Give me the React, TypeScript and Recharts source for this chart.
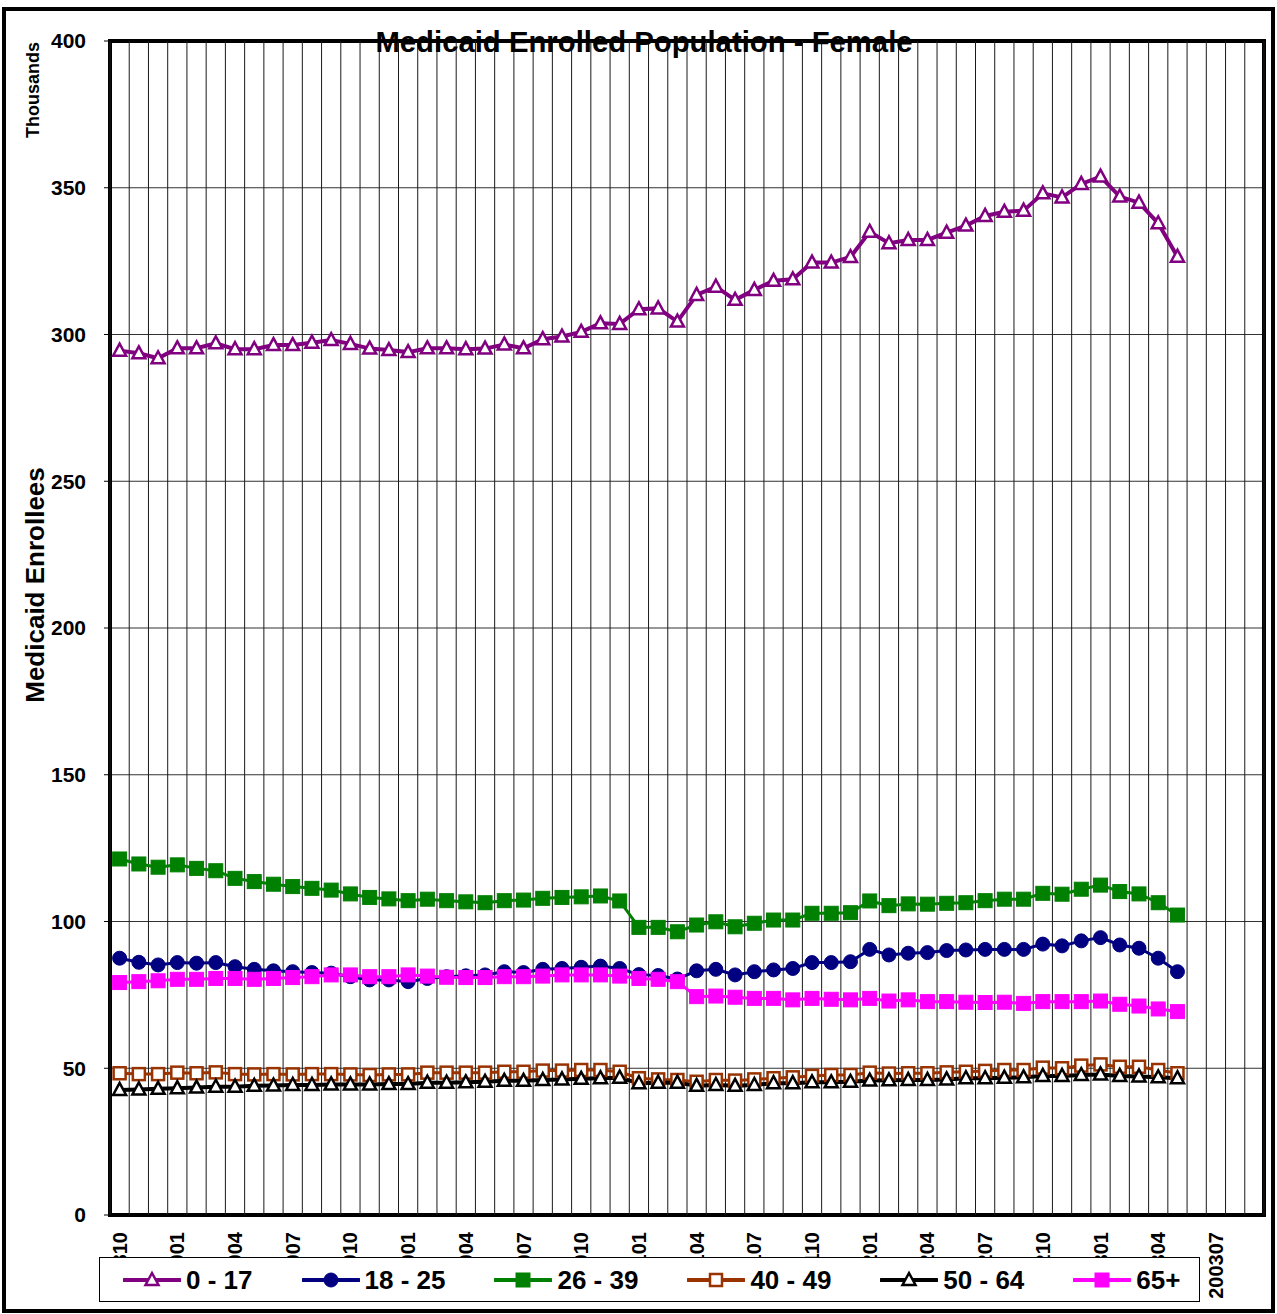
import { LineChart, Line, XAxis, YAxis, CartesianGrid, ReferenceArea, ReferenceLine, Legend } from 'recharts';

const months = [
  '199810', '199811', '199812', '199901', '199902', '199903', '199904', '199905', '199906', '199907',
  '199908', '199909', '199910', '199911', '199912', '200001', '200002', '200003', '200004', '200005',
  '200006', '200007', '200008', '200009', '200010', '200011', '200012', '200101', '200102', '200103',
  '200104', '200105', '200106', '200107', '200108', '200109', '200110', '200111', '200112', '200201',
  '200202', '200203', '200204', '200205', '200206', '200207', '200208', '200209', '200210', '200211',
  '200212', '200301', '200302', '200303', '200304', '200305', '200306', '200307', '200308', '200309',
];

const age0to17 = [
  294.5, 293.6, 291.9, 295.3, 295.3, 297.0, 295.0, 295.0, 296.4, 296.4,
  297.2, 298.1, 296.8, 295.2, 294.7, 294.0, 295.3, 295.3, 295.0, 295.2,
  296.6, 295.3, 298.4, 299.3, 300.9, 303.8, 303.6, 308.6, 308.9, 304.4,
  313.5, 316.3, 311.8, 315.2, 318.3, 318.8, 324.5, 324.5, 326.4, 335.0,
  331.1, 332.2, 332.2, 334.7, 337.1, 340.4, 341.8, 342.2, 348.1, 346.7,
  351.3, 353.8, 347.0, 344.9, 337.9, 326.5,
];
const age18to25 = [
  87.5, 86.1, 85.2, 86.0, 85.8, 86.0, 84.6, 83.7, 83.2, 82.9,
  82.6, 82.4, 81.2, 80.1, 80.1, 79.5, 80.6, 81.2, 81.5, 81.8,
  82.9, 82.6, 83.7, 84.0, 84.4, 84.8, 84.0, 81.9, 81.6, 80.4,
  83.2, 83.7, 81.8, 82.9, 83.5, 84.0, 86.0, 86.0, 86.3, 90.5,
  88.6, 89.2, 89.4, 90.1, 90.3, 90.5, 90.5, 90.5, 92.3, 91.7,
  93.4, 94.5, 92.0, 90.9, 87.5, 82.9,
];
const age26to39 = [
  121.3, 119.6, 118.5, 119.3, 118.1, 117.3, 114.7, 113.6, 112.7, 111.9,
  111.3, 110.7, 109.4, 108.2, 107.7, 107.1, 107.6, 107.1, 106.7, 106.4,
  107.1, 107.3, 107.9, 108.2, 108.4, 108.7, 107.0, 98.0, 98.0, 96.5,
  98.8, 99.9, 98.2, 99.4, 100.5, 100.5, 102.8, 102.8, 103.0, 107.0,
  105.4, 106.0, 105.9, 106.2, 106.4, 107.1, 107.6, 107.6, 109.6, 109.3,
  111.0, 112.4, 110.2, 109.4, 106.4, 102.2,
];
const age40to49 = [
  48.3, 48.0, 48.0, 48.5, 48.3, 48.6, 48.0, 47.9, 48.0, 47.9,
  48.0, 48.0, 47.9, 47.7, 47.9, 47.9, 48.5, 48.5, 48.5, 48.5,
  48.8, 48.8, 49.2, 49.2, 49.4, 49.4, 48.8, 46.6, 46.2, 46.0,
  45.4, 46.0, 45.8, 46.2, 46.6, 46.9, 47.4, 47.7, 47.7, 48.5,
  48.2, 48.3, 48.3, 48.6, 48.8, 49.1, 49.4, 49.4, 50.2, 50.0,
  50.9, 51.3, 50.5, 50.5, 49.4, 48.3,
];
const age50to64 = [
  42.6, 42.8, 43.0, 43.2, 43.4, 43.7, 43.7, 44.0, 44.1, 44.3,
  44.3, 44.5, 44.5, 44.5, 44.6, 44.6, 45.1, 45.1, 45.2, 45.4,
  45.7, 45.7, 46.0, 46.2, 46.4, 46.6, 46.8, 44.9, 45.1, 45.1,
  44.0, 44.3, 44.0, 44.3, 44.9, 44.9, 45.2, 45.2, 45.4, 45.8,
  45.9, 46.0, 46.0, 46.2, 46.6, 46.6, 46.8, 46.9, 47.4, 47.4,
  47.7, 47.9, 47.4, 47.2, 46.9, 46.6,
];
const age65plus = [
  79.2, 79.5, 79.8, 80.3, 80.3, 80.6, 80.6, 80.3, 80.6, 80.9,
  81.2, 81.8, 81.8, 81.2, 81.2, 81.8, 81.4, 81.0, 80.9, 80.9,
  81.2, 81.2, 81.4, 81.8, 81.8, 81.8, 81.4, 80.6, 80.3, 79.5,
  74.4, 74.6, 74.2, 73.8, 73.8, 73.3, 73.8, 73.5, 73.3, 73.8,
  72.9, 73.3, 72.7, 72.7, 72.5, 72.4, 72.5, 72.1, 72.7, 72.7,
  72.7, 72.9, 71.8, 71.2, 70.2, 69.3,
];

const yTicks = [0, 50, 100, 150, 200, 250, 300, 350, 400];

const FONT = '"Liberation Sans", Arial, sans-serif';

type Shape = 'triangle' | 'circle' | 'square';
interface SeriesDef {
  key: string;
  name: string;
  values: number[];
  color: string;
  fill: string;
  shape: Shape;
  width: number;
}

const SERIES: SeriesDef[] = [
  { key: 'a', name: '0 - 17', values: age0to17, color: '#800080', fill: '#ffffff', shape: 'triangle', width: 4 },
  { key: 'b', name: '18 - 25', values: age18to25, color: '#000080', fill: '#000080', shape: 'circle', width: 3 },
  { key: 'c', name: '26 - 39', values: age26to39, color: '#008000', fill: '#008000', shape: 'square', width: 3 },
  { key: 'd', name: '40 - 49', values: age40to49, color: '#993300', fill: '#ffffff', shape: 'square', width: 3 },
  { key: 'e', name: '50 - 64', values: age50to64, color: '#000000', fill: '#ffffff', shape: 'triangle', width: 4 },
  { key: 'f', name: '65+', values: age65plus, color: '#ff00ff', fill: '#ff00ff', shape: 'square', width: 3 },
];

const data = age0to17.map((_, i) => {
  const row: Record<string, number | string> = { x: i + 0.5, month: months[i] };
  SERIES.forEach((s) => {
    row[s.key] = s.values[i];
  });
  return row;
});

// month boundaries (grid + tick marks) and label positions (every 3rd month centre)
const gridTicks = months.map((_, i) => i).concat([months.length]);
const labelTicks = months.map((_, i) => i + 0.5).filter((_, i) => i % 3 === 0);

function marker(s: SeriesDef, cx: number, cy: number, key?: string) {
  const open = s.fill === '#ffffff';
  if (s.shape === 'circle') {
    return <circle key={key} cx={cx} cy={cy} r={7} fill={s.fill} stroke={s.color} strokeWidth={1} />;
  }
  if (s.shape === 'square') {
    const h = open ? 6 : 7;
    return (
      <rect key={key} x={cx - h} y={cy - h} width={h * 2} height={h * 2}
        fill={s.fill} stroke={s.color} strokeWidth={open ? 2.5 : 1} />
    );
  }
  const pts = `${cx},${cy - 7} ${cx - 6.5},${cy + 5} ${cx + 6.5},${cy + 5}`;
  return <polygon key={key} points={pts} fill={s.fill} stroke={s.color} strokeWidth={2.5} strokeLinejoin="miter" />;
}

const renderDot = (s: SeriesDef) => (props: any) => {
  const { cx, cy, index } = props;
  if (cx == null || cy == null) return <g key={`${s.key}-${index}`} />;
  return marker(s, cx, cy, `${s.key}-${index}`);
};

const MonthTick = (props: any) => {
  const { x, y, payload } = props;
  const idx = Math.floor(payload.value);
  const ty = y + 11;
  return (
    <text x={x} y={ty} transform={`rotate(-90, ${x}, ${ty})`} textAnchor="end" dominantBaseline="central"
      fontFamily={FONT} fontWeight="bold" fontSize={20} fill="#000">
      {months[idx]}
    </text>
  );
};

const renderLegend = () => (
  <div style={{
    boxSizing: 'border-box', width: 1101, height: 45, border: '1px solid #000', background: '#fff',
    display: 'flex', alignItems: 'center', paddingLeft: 23, whiteSpace: 'nowrap', overflow: 'hidden',
  }}>
    {SERIES.map((s) => (
      <div key={s.key} style={{ marginRight: 49, display: 'flex', alignItems: 'center', flexShrink: 0 }}>
        <svg width={58} height={22} style={{ display: 'block', flexShrink: 0 }}>
          <line x1={1} y1={11} x2={57} y2={11} stroke={s.color} strokeWidth={4} strokeLinecap="round" />
          {marker(s, 29, 11)}
        </svg>
        <span style={{
          marginLeft: 5, fontFamily: FONT, fontWeight: 'bold', fontSize: 26, color: '#000',
          lineHeight: '26px', whiteSpace: 'nowrap',
        }}>
          {s.name}
        </span>
      </div>
    ))}
  </div>
);

export default function App() {
  return (
    <div style={{ position: 'absolute', left: 0, top: 0, width: 1277, height: 1314, background: '#fff' }}>
      <div style={{
        position: 'absolute', left: 2, top: 7, width: 1273, height: 1306,
        border: '4px solid #000', boxSizing: 'border-box',
      }} />
      <div style={{ position: 'absolute', left: 0, top: 0 }}>
        <LineChart width={1277} height={1314} data={data} margin={{ top: 41, right: 13, bottom: 13, left: 0 }}>
          <CartesianGrid stroke="#333" strokeWidth={1} vertical={false} />
          <XAxis dataKey="x" type="number" domain={[0, 60]} ticks={gridTicks} interval={0}
            tick={false} tickSize={6} tickLine={{ stroke: '#000' }} axisLine={false} height={6} />
          <XAxis xAxisId="lab" dataKey="x" type="number" domain={[0, 60]} ticks={labelTicks} interval={0}
            tick={<MonthTick />} tickSize={0} tickMargin={0} tickLine={false} axisLine={false} height={80} />
          <YAxis domain={[0, 400]} ticks={yTicks} interval={0} width={110} tickSize={6} tickMargin={18}
            tickLine={{ stroke: '#000' }} axisLine={false}
            tick={{ fontFamily: FONT, fontWeight: 'bold', fontSize: 21, fill: '#000' }} />
          {gridTicks.map((t) => (
            <ReferenceLine key={`v${t}`} x={t} stroke="#1a1a1a" strokeWidth={1} />
          ))}
          <ReferenceArea x1={0} x2={60} y1={0} y2={400} fill="none" stroke="#000" strokeWidth={4} fillOpacity={0} />
          {SERIES.map((s) => (
            <Line key={s.key} dataKey={s.key} name={s.name} stroke={s.color} strokeWidth={s.width}
              type="linear" dot={renderDot(s)} activeDot={false} isAnimationActive={false} />
          ))}
          <Legend layout="horizontal" verticalAlign="middle" align="center" content={renderLegend}
            wrapperStyle={{ left: 99, top: 1257, width: 1101, height: 45 }} />
        </LineChart>
      </div>
      <svg width={1277} height={1314} style={{ position: 'absolute', left: 0, top: 0, pointerEvents: 'none' }}>
        <text x={644} y={52} textAnchor="middle" fontFamily={FONT} fontWeight="bold" fontSize={29.3} fill="#000">
          Medicaid Enrolled Population - Female
        </text>
        <text x={0} y={0} transform="translate(33, 90) rotate(-90)" textAnchor="middle" dominantBaseline="central"
          fontFamily={FONT} fontWeight="bold" fontSize={18} fill="#000">
          Thousands
        </text>
        <text x={0} y={0} transform="translate(35, 585) rotate(-90)" textAnchor="middle" dominantBaseline="central"
          fontFamily={FONT} fontWeight="bold" fontSize={26} fill="#000">
          Medicaid Enrollees
        </text>
      </svg>
    </div>
  );
}
